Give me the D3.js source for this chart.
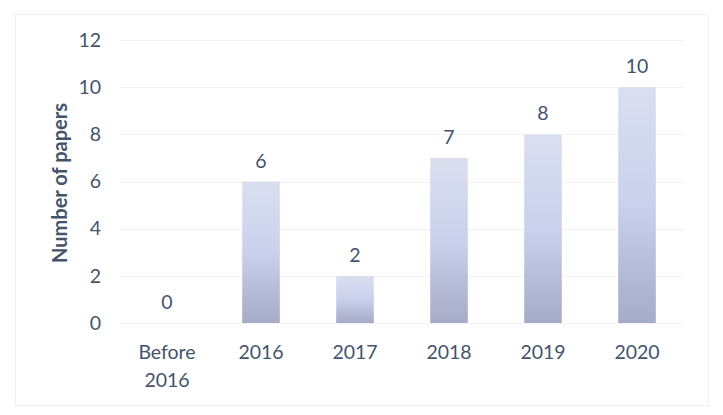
<!DOCTYPE html>
<html><head><meta charset="utf-8">
<script src="https://cdn.jsdelivr.net/npm/d3@7"></script>
<style>body{margin:0;background:#fff;}svg{display:block;}</style>
</head><body>
<script>
const categories = ["Before 2016", "2016", "2017", "2018", "2019", "2020"];
const values = [0, 6, 2, 7, 8, 10];
const yTicks = [0, 2, 4, 6, 8, 10, 12];
const yTitle = "Number of papers";

const W = 723, H = 415;
const svg = d3.select("body").append("svg").attr("width", W).attr("height", H);
const font = "Lato, 'Open Sans', sans-serif";
const textColor = "#44546a";

svg.append("rect").attr("x", 15.5).attr("y", 14.5).attr("width", 693).attr("height", 391)
  .attr("fill", "#fff").attr("stroke", "#f0f0f0").attr("stroke-width", 1);

const defs = svg.append("defs");
const grad = defs.append("linearGradient").attr("id", "barGrad")
  .attr("x1", 0).attr("y1", 0).attr("x2", 0).attr("y2", 1);
grad.append("stop").attr("offset", "0%").attr("stop-color", "#dadfef");
grad.append("stop").attr("offset", "50%").attr("stop-color", "#c9d1ec");
grad.append("stop").attr("offset", "100%").attr("stop-color", "#a6abc7");

const x = d3.scaleBand().domain(categories).range([120, 684]).paddingInner(0.6).paddingOuter(0.3);
const y = d3.scaleLinear().domain([0, 12]).range([323, 40]);

// gridlines
svg.append("g").selectAll("line").data(yTicks).join("line")
  .attr("x1", 120).attr("x2", 684)
  .attr("y1", d => Math.round(y(d)) + 0.5).attr("y2", d => Math.round(y(d)) + 0.5)
  .attr("stroke", "#f2f2f2").attr("stroke-width", 1);

// y axis
const yAxis = svg.append("g").attr("transform", "translate(101,0)")
  .call(d3.axisLeft(y).tickValues(yTicks).tickSize(0).tickPadding(0));
yAxis.select(".domain").remove();
yAxis.selectAll("text").attr("font-family", font).attr("font-size", 19.5).attr("fill", textColor);

// x axis
const xAxis = svg.append("g").attr("transform", "translate(0,323)")
  .call(d3.axisBottom(x).tickSize(0).tickPadding(0).tickFormat(""));
xAxis.select(".domain").remove();
xAxis.selectAll(".tick").each(function(d) {
  const words = d === "Before 2016" ? ["Before", "2016"] : [d];
  const t = d3.select(this).append("text").attr("font-family", font).attr("font-size", 19.5)
    .attr("fill", textColor).attr("text-anchor", "middle");
  words.forEach((w, i) => t.append("tspan").attr("x", 0).attr("y", 36 + i * 28).text(w));
});

// bars
svg.append("g").selectAll("rect").data(values).join("rect")
  .attr("x", (d, i) => x(categories[i]))
  .attr("width", x.bandwidth())
  .attr("y", d => y(d))
  .attr("height", d => y(0) - y(d))
  .attr("fill", "url(#barGrad)");

// labels
svg.append("g").selectAll("text").data(values).join("text")
  .attr("x", (d, i) => x(categories[i]) + x.bandwidth() / 2)
  .attr("y", d => y(d) - 14)
  .attr("text-anchor", "middle")
  .attr("font-family", font).attr("font-size", 19.5).attr("fill", textColor)
  .text(d => d);

// y title
svg.append("text").attr("transform", "translate(67,183) rotate(-90)")
  .attr("text-anchor", "middle").attr("font-family", font).attr("font-weight", "bold")
  .attr("font-size", 20).attr("fill", textColor).text(yTitle);
</script>
</body></html>
